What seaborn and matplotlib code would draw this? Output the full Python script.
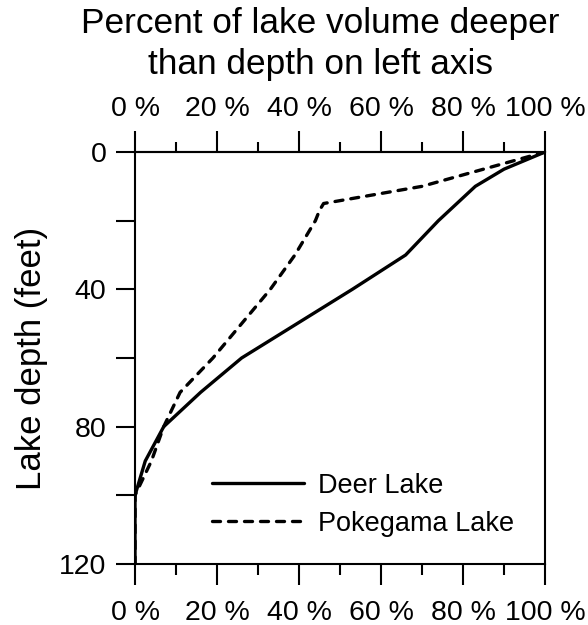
import matplotlib
matplotlib.use("Agg")
import matplotlib.pyplot as plt
from matplotlib.ticker import MultipleLocator, FuncFormatter
import pandas as pd
import seaborn as sns

# Values (percent of volume deeper, depth in feet)
deer_pct = [100, 90, 83, 74, 66, 53, 26, 16, 7, 2.5, 0, 0]
deer_depth = [0, 5, 10, 20, 30, 40, 60, 70, 80, 90, 100, 120]
pokegama_pct = [100, 70, 46, 45, 44, 39, 33, 26, 19, 11, 7, 4, 0, 0]
pokegama_depth = [0, 10, 15, 17, 20, 30, 40, 50, 60, 70, 80, 90, 100, 120]
lake_names = ["Deer Lake", "Pokegama Lake"]

x_major = [0, 20, 40, 60, 80, 100]
y_major = [0, 40, 80, 120]

sns.set_theme(style="ticks")
plt.rcParams["font.family"] = ["Liberation Sans", "DejaVu Sans"]
plt.rcParams.update({
    "text.color": "black",
    "axes.labelcolor": "black",
    "xtick.color": "black",
    "ytick.color": "black",
    "lines.solid_capstyle": "round",
    "lines.dash_capstyle": "round",
})

df = pd.concat([
    pd.DataFrame({"pct": deer_pct, "depth": deer_depth, "lake": lake_names[0]}),
    pd.DataFrame({"pct": pokegama_pct, "depth": pokegama_depth, "lake": lake_names[1]}),
], ignore_index=True)

fig = plt.figure(figsize=(5.88, 6.25), dpi=100)
ax = fig.add_axes([0.2296, 0.0976, 0.6973, 0.6592])

lw = 2.4
sns.lineplot(data=df, x="pct", y="depth", style="lake", sort=False, estimator=None,
             color="black", linewidth=lw,
             dashes={lake_names[0]: "", lake_names[1]: (2.4, 2.4)}, ax=ax)

ax.set_xlim(0, 100)
ax.set_ylim(120, 0)

pct_fmt = FuncFormatter(lambda v, p: f"{v:.0f} %")

# bottom axis
ax.set_xticks(x_major)
ax.xaxis.set_minor_locator(MultipleLocator(10))
ax.xaxis.set_major_formatter(pct_fmt)
ax.tick_params(axis="x", which="both", direction="out", top=False, bottom=True,
               width=1.5, labelsize=20.5, pad=11)
ax.tick_params(axis="x", which="major", length=15)
ax.tick_params(axis="x", which="minor", length=8)

# top axis (same scale)
top = ax.secondary_xaxis("top")
top.set_xticks(x_major)
top.xaxis.set_minor_locator(MultipleLocator(10))
top.xaxis.set_major_formatter(pct_fmt)
top.tick_params(axis="x", which="both", direction="out", width=1.5,
                labelsize=20.5, pad=6.5)
top.tick_params(axis="x", which="major", length=15)
top.tick_params(axis="x", which="minor", length=7.5)
top.spines["top"].set_linewidth(1.5)

ax.set_yticks(y_major)
ax.yaxis.set_minor_locator(MultipleLocator(20))
ax.tick_params(axis="y", which="both", direction="out", length=13.5, width=1.5,
               labelsize=20.5, pad=7)

for s in ax.spines.values():
    s.set_linewidth(1.5)
    s.set_color("black")
    s.set_visible(True)

ax.set_xlabel("")
ax.set_ylabel("Lake depth (feet)", fontsize=25, labelpad=8)

fig.text(0.545, 1 - 33 / 625, "Percent of lake volume deeper",
         ha="center", va="baseline", fontsize=25.4)
fig.text(0.545, 1 - 74 / 625, "than depth on left axis",
         ha="center", va="baseline", fontsize=25.4)

leg = ax.legend(loc="upper left", bbox_to_anchor=(0.188, 0.222), frameon=False,
                fontsize=19.5, handlelength=3.4, handletextpad=0.5, labelspacing=0.45,
                borderpad=0, borderaxespad=0)
for line in leg.get_lines():
    line.set_linewidth(lw)

fig.savefig("out.png", dpi=100)
